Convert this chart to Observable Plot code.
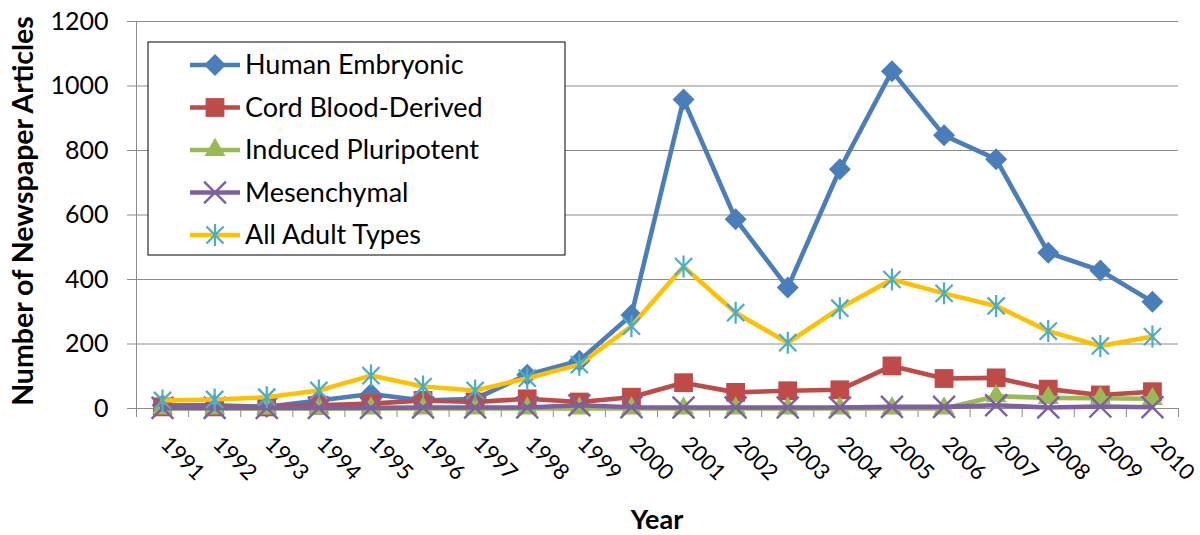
<!DOCTYPE html>
<html>
<head>
<meta charset="utf-8">
<script src="https://cdn.jsdelivr.net/npm/d3@7"></script>
<script src="https://cdn.jsdelivr.net/npm/@observablehq/plot@0.6"></script>
<style>
  html, body { margin: 0; padding: 0; background: #fff; }
  #chart { width: 1200px; height: 535px; }
</style>
</head>
<body>
<div id="chart"></div>
<script>
// ---------- data ----------
const years = [1991, 1992, 1993, 1994, 1995, 1996, 1997, 1998, 1999, 2000,
               2001, 2002, 2003, 2004, 2005, 2006, 2007, 2008, 2009, 2010];
const seriesNames = ["Human Embryonic", "Cord Blood-Derived", "Induced Pluripotent", "Mesenchymal", "All Adult Types"];
const humanEmbryonic     = [10, 10, 5, 25, 45, 25, 30, 105, 148, 290, 958, 587, 375, 742, 1046, 847, 773, 483, 428, 331];
const cordBloodDerived   = [5, 5, 5, 10, 15, 25, 20, 30, 20, 35, 80, 50, 55, 58, 132, 93, 95, 60, 42, 52];
const inducedPluripotent = [0, 0, 0, 0, 0, 0, 0, 0, 0, 0, 0, 0, 0, 0, 0, 0, 38, 33, 32, 30];
const mesenchymal        = [2, 2, 2, 2, 2, 3, 3, 3, 10, 4, 3, 3, 3, 3, 5, 5, 10, 3, 6, 4];
const allAdultTypes      = [25, 28, 35, 56, 102, 68, 56, 94, 136, 255, 440, 297, 204, 311, 400, 357, 318, 240, 194, 223];
const yTicks = [0, 200, 400, 600, 800, 1000, 1200];
const xTitle = "Year";
const yTitle = "Number of Newspaper Articles";

// ---------- styles ----------
const FONT = "Lato, 'Open Sans', sans-serif";
const gridColor = "#8c8c8c";
const lineColors   = ["#4A7EBB", "#BE4B48", "#98B954", "#7D60A0", "#FFC000"];
const markerColors = ["#4A7EBB", "#BE4B48", "#98B954", "#7D60A0", "#4BACC6"];

// Excel-style star marker: vertical bar + X
const star = {
  draw(context, size) {
    const h = Math.sqrt(size / Math.PI);
    const d = h * 0.78;
    context.moveTo(0, -h); context.lineTo(0, h);
    context.moveTo(-d, -d); context.lineTo(d, d);
    context.moveTo(-d, d); context.lineTo(d, -d);
  }
};
const markers = [
  {symbol: "diamond2", r: 9.9, fill: markerColors[0], stroke: "none", sw: 0},
  {symbol: "square",   r: 10.6, fill: markerColors[1], stroke: "none", sw: 0},
  {symbol: "triangle", r: 7.8, fill: markerColors[2], stroke: "none", sw: 0},
  {symbol: "times",    r: 10.0, fill: "none", stroke: markerColors[3], sw: 2.4},
  {symbol: star,       r: 11.0, fill: "none", stroke: markerColors[4], sw: 2.2}
];
const d3Symbols = [d3.symbolDiamond2, d3.symbolSquare, d3.symbolTriangle, d3.symbolTimes, star];

const allValues = [humanEmbryonic, cordBloodDerived, inducedPluripotent, mesenchymal, allAdultTypes];
const rows = seriesNames.map((name, s) => years.map((year, i) => ({year, series: name, value: allValues[s][i]})));

const xDomain = [years[0] - 0.5, years[years.length - 1] + 0.5];
const boundaries = years.map(y => y - 0.5).concat([years[years.length - 1] + 0.5]);

const seriesMarks = [];
rows.forEach((data, s) => {
  seriesMarks.push(Plot.line(data, {x: "year", y: "value", stroke: lineColors[s], strokeWidth: 4.6, strokeLinejoin: "round", strokeLinecap: "round"}));
  const m = markers[s];
  seriesMarks.push(Plot.dot(data, {x: "year", y: "value", symbol: m.symbol, r: m.r, fill: m.fill, stroke: m.stroke, strokeWidth: m.sw}));
});

const xTickMark = Plot.axisTickX
  ? Plot.axisTickX({ticks: boundaries, tickSize: 9, stroke: gridColor})
  : Plot.axisX({ticks: boundaries, tickSize: 9, stroke: gridColor, tickFormat: () => "", label: null});

const plot = Plot.plot({
  width: 1200,
  height: 535,
  marginTop: 21,
  marginBottom: 127,
  marginLeft: 136,
  marginRight: 22,
  style: {fontFamily: FONT, fontSize: "25px", background: "#fff", color: "#000", overflow: "visible"},
  x: {type: "linear", domain: xDomain, axis: null},
  y: {type: "linear", domain: [0, 1200], axis: null},
  marks: [
    Plot.ruleY(yTicks.filter(d => d > 0), {stroke: gridColor, strokeWidth: 1}),
    Plot.axisY({ticks: yTicks, tickSize: 9, tickPadding: 19, stroke: gridColor, fontSize: 25, label: null, tickFormat: d => String(d)}),
    xTickMark,
    Plot.ruleX([xDomain[0]], {stroke: gridColor, strokeWidth: 1}),
    Plot.ruleY([0], {stroke: gridColor, strokeWidth: 1}),
    Plot.text(years, {x: d => d, frameAnchor: "bottom", text: d => String(d), rotate: 45, textAnchor: "start", dy: 37, dx: -3, fontSize: 22, fill: "#000"}),
    ...seriesMarks
  ]
});

// ---------- titles & legend ----------
const svg = d3.select(plot);
svg.append("text")
  .attr("transform", "translate(33,211) rotate(-90)")
  .attr("text-anchor", "middle")
  .style("font-family", FONT).style("font-weight", "bold").style("font-size", "28.5px")
  .attr("fill", "#000")
  .text(yTitle);
svg.append("text")
  .attr("x", 657).attr("y", 529)
  .attr("text-anchor", "middle")
  .style("font-family", FONT).style("font-weight", "bold").style("font-size", "27px")
  .attr("fill", "#000")
  .text(xTitle);

const lg = svg.append("g").attr("class", "legend");
lg.append("rect").attr("x", 148).attr("y", 42).attr("width", 417).attr("height", 213)
  .attr("fill", "#fff").attr("stroke", "#000").attr("stroke-width", 1);
seriesNames.forEach((name, s) => {
  const cy = 65 + s * 42.5;
  lg.append("line").attr("x1", 190).attr("x2", 240).attr("y1", cy).attr("y2", cy)
    .attr("stroke", lineColors[s]).attr("stroke-width", 4.6);
  const m = markers[s];
  lg.append("path")
    .attr("transform", `translate(215,${cy})`)
    .attr("d", d3.symbol(d3Symbols[s], m.r * m.r * Math.PI)())
    .attr("fill", m.fill).attr("stroke", m.stroke).attr("stroke-width", m.sw);
  lg.append("text").attr("x", 245).attr("y", cy).attr("dy", "0.35em")
    .attr("text-anchor", "start")
    .style("font-family", FONT).style("font-size", "27px").attr("fill", "#000")
    .text(name);
});

document.getElementById("chart").appendChild(plot);
</script>
</body>
</html>
